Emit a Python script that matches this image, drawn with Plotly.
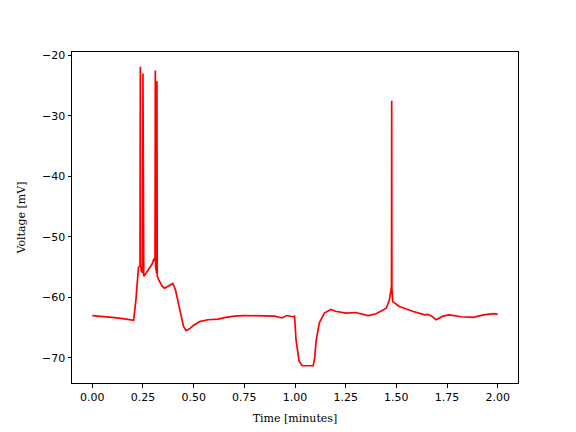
import plotly.graph_objects as go

# Values
time_min = [0.000, 0.05, 0.10, 0.15, 0.204, 0.215, 0.222, 0.228, 0.2355, 0.237, 0.2385,
            0.241, 0.2485, 0.250, 0.2515, 0.254, 0.265, 0.28, 0.295, 0.305, 0.3095,
            0.311, 0.3125, 0.3175, 0.319, 0.3205, 0.328, 0.345, 0.357, 0.375, 0.397,
            0.41, 0.43, 0.45, 0.463, 0.48, 0.50, 0.53, 0.57, 0.62, 0.66, 0.70, 0.75,
            0.80, 0.85, 0.90, 0.935, 0.96, 0.99, 0.998, 1.005, 1.02, 1.035, 1.06, 1.09,
            1.097, 1.105, 1.12, 1.145, 1.177, 1.20, 1.25, 1.30, 1.36, 1.40, 1.45, 1.465,
            1.472, 1.476, 1.477, 1.478, 1.482, 1.515, 1.58, 1.64, 1.655, 1.675, 1.696,
            1.73, 1.76, 1.82, 1.88, 1.93, 1.98, 2.00]
voltage_mv = [-63.0, -63.1, -63.3, -63.5, -63.8, -60.5, -57.0, -55.0, -54.8, -21.9, -54.2,
              -55.5, -56.0, -23.0, -56.0, -56.5, -56.0, -55.3, -54.5, -53.6, -54.0,
              -22.5, -55.0, -56.0, -24.3, -56.5, -57.1, -58.2, -58.5, -58.2, -57.7,
              -58.7, -62.0, -64.8, -65.5, -65.2, -64.6, -64.0, -63.7, -63.6, -63.3, -63.1, -63.0,
              -63.0, -63.0, -63.1, -63.4, -63.0, -63.2, -63.1, -67.0, -70.5, -71.3, -71.3, -71.3,
              -70.0, -67.0, -64.2, -62.6, -62.0, -62.3, -62.6, -62.5, -63.0, -62.7, -61.8, -60.5,
              -59.1, -58.2, -27.5, -58.5, -60.7, -61.5, -62.3, -62.9, -62.8, -63.1, -63.7,
              -63.1, -62.9, -63.2, -63.3, -62.9, -62.7, -62.8]

x_ticks = [0.0, 0.25, 0.5, 0.75, 1.0, 1.25, 1.5, 1.75, 2.0]
x_tick_text = ["0.00", "0.25", "0.50", "0.75", "1.00", "1.25", "1.50", "1.75", "2.00"]
y_ticks = [-70, -60, -50, -40, -30, -20]
y_tick_text = ["\u221270", "\u221260", "\u221250", "\u221240", "\u221230", "\u221220"]

fig = go.Figure()
fig.add_trace(go.Scatter(x=time_min, y=voltage_mv, mode="lines",
                         line=dict(color="red", width=1.7), showlegend=False))

axis_common = dict(showgrid=False, zeroline=False, showline=True, linecolor="black",
                   linewidth=1, mirror=True, ticks="outside", ticklen=3.5, tickwidth=1,
                   tickcolor="black", automargin=False,
                   tickfont=dict(family="DejaVu Sans", size=11, color="black"))

# page body has an 8px margin, so the figure is 8px smaller and margins shifted
fig.update_layout(
    width=568, height=424,
    margin=dict(l=64, r=58, t=44, b=49),
    paper_bgcolor="white", plot_bgcolor="white",
    xaxis=dict(range=[-0.1, 2.1], tickvals=x_ticks, ticktext=x_tick_text,
               title=dict(text="Time [minutes]", standoff=11,
                          font=dict(family="DejaVu Serif", size=11, color="black")),
               **axis_common),
    yaxis=dict(range=[-74.15, -19.45], tickvals=y_ticks, ticktext=y_tick_text,
               title=dict(text="Voltage [mV]", standoff=14,
                          font=dict(family="DejaVu Serif", size=11, color="black")),
               **axis_common),
)

fig.write_html("out.html")
